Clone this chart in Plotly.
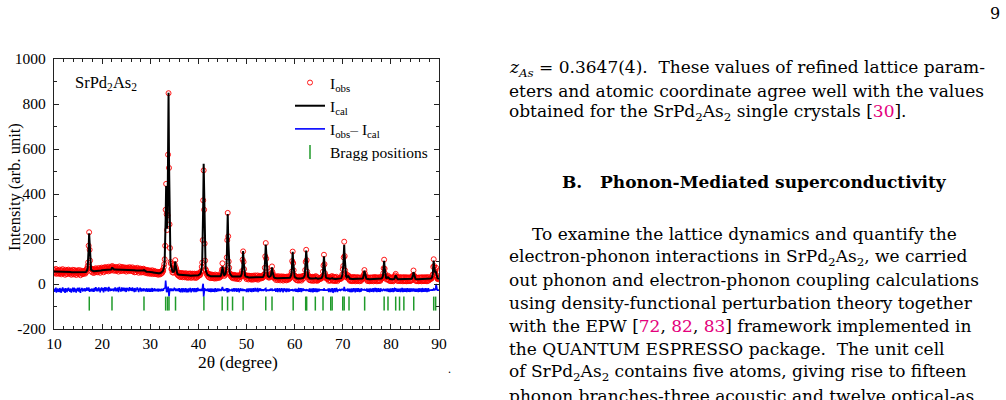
import numpy as np
import plotly.graph_objects as go

# ---------------- data ----------------
two_theta_start = 10.0
two_theta_step = 0.1          # sampling grid of the pattern (deg)

# observed intensity, one row per degree (x.0 ... x.9)
i_obs = [
    63,48,60,52,67,45,58,50,62,47,   # 10
    59,46,64,51,57,43,61,49,66,52,   # 11
    47,60,55,41,63,50,58,44,61,53,   # 12
    64,49,56,45,60,52,41,58,47,63,   # 13
    50,43,62,55,46,59,40,54,48,61,   # 14
    57,44,53,62,47,39,55,50,59,45,   # 15
    44,56,47,58,53,46,60,52,66,70,   # 16
    80,96,170,230,152,104,70,69,55,66,  # 17
    51,64,60,49,67,55,62,70,53,63,   # 18
    66,52,63,71,57,64,50,68,61,73,   # 19
    58,70,64,52,72,61,75,57,66,69,   # 20
    74,60,68,56,77,65,71,59,70,62,   # 21
    76,80,68,73,59,71,62,76,67,58,   # 22
    72,61,75,66,55,70,78,63,68,57,   # 23
    69,76,60,71,64,74,58,67,73,61,   # 24
    55,68,73,62,70,57,66,75,60,69,   # 25
    71,58,66,74,56,68,63,52,70,64,   # 26
    53,67,61,72,58,64,50,66,57,69,   # 27
    62,51,66,55,60,52,68,65,58,63,   # 28
    49,60,53,63,47,58,51,61,46,57,   # 29
    59,46,55,50,61,44,56,48,53,58,   # 30
    44,55,47,52,43,54,49,41,53,46,   # 31
    52,43,55,47,58,50,62,58,74,88,   # 32
    110,170,330,445,310,240,305,575,848,516,  # 33
    265,160,98,90,66,68,52,60,50,62,  # 34
    70,86,106,74,66,46,53,40,48,37,  # 35
    50,33,46,31,47,36,49,30,45,38,   # 36
    47,30,44,35,48,29,43,37,28,46,   # 37
    29,45,33,47,38,27,44,31,46,36,   # 38
    44,28,46,33,41,27,45,30,39,47,   # 39
    35,45,38,47,41,55,53,76,95,195,  # 40
    372,505,330,180,104,66,60,45,49,38,  # 41
    47,31,44,28,43,37,26,42,33,27,   # 42
    41,26,38,31,24,42,29,38,25,40,   # 43
    29,37,35,27,38,30,39,34,52,64,   # 44
    92,66,44,46,36,45,41,57,64,118,  # 45
    195,316,212,100,72,48,47,36,40,31,  # 46
    40,26,38,29,41,24,37,27,39,33,   # 47
    22,37,25,38,29,21,36,31,42,33,   # 48
    48,58,108,145,98,66,40,40,31,36, # 49
    22,38,26,35,20,37,24,36,27,21,   # 50
    36,19,33,25,37,20,31,24,38,27,   # 51
    21,34,26,38,19,32,23,36,25,35,   # 52
    31,25,33,27,35,30,41,44,72,123,  # 53
    182,112,71,43,40,30,34,28,36,37, # 54
    32,44,60,78,52,42,29,33,25,30,   # 55
    33,18,31,24,35,17,29,22,34,27,   # 56
    16,31,24,34,19,29,15,33,22,30,   # 57
    32,18,29,16,33,22,30,19,34,23,   # 58
    25,33,30,44,55,102,144,93,61,37, # 59
    38,24,34,19,31,17,29,15,30,33,   # 60
    16,31,20,33,15,29,34,22,36,27,   # 61
    36,38,62,98,152,106,55,43,30,33, # 62
    19,34,17,31,15,30,18,32,14,29,   # 63
    31,15,30,18,35,16,31,14,29,17,   # 64
    20,25,22,27,23,29,25,33,34,55,   # 65
    82,130,88,48,39,27,30,23,28,22,  # 66
    30,14,31,17,28,15,33,24,35,16,   # 67
    14,30,17,31,13,28,16,32,19,13,   # 68
    25,20,24,21,26,23,28,24,34,42,   # 69
    66,80,118,188,124,60,45,30,32,28,  # 70
    40,30,37,20,32,14,29,17,13,30,   # 71
    13,29,15,31,17,28,12,30,18,14,   # 72
    29,13,30,16,27,12,28,17,14,30,   # 73
    21,27,24,35,43,62,47,30,28,22,   # 74
    30,14,29,13,28,16,12,29,15,28,   # 75
    13,28,15,30,12,27,16,31,14,27,   # 76
    29,12,27,15,30,13,28,16,14,31,   # 77
    22,27,25,34,47,70,108,68,46,30,  # 78
    33,20,32,22,37,19,30,14,29,13,   # 79
    29,13,27,14,30,12,29,16,33,38,   # 80
    45,26,32,15,29,13,28,16,31,15,   # 81
    13,29,14,27,30,12,28,15,30,13,   # 82
    29,13,28,12,30,15,27,13,29,16,   # 83
    13,29,15,31,18,37,35,60,38,24,   # 84
    32,15,29,13,28,14,27,12,29,15,   # 85
    13,29,15,28,12,30,16,13,29,14,   # 86
    28,13,30,15,29,12,27,14,31,16,   # 87
    24,21,25,22,27,25,35,42,76,110,  # 88
    80,50,55,62,72,38,30,22,26,21,   # 89
    25,                              # 90
]

# calculated (Rietveld) intensity on the same grid
i_cal = [
    56,56,56,56,56,56,55,55,55,55,   # 10
    55,55,55,55,55,55,54,54,54,54,   # 11
    54,54,54,54,54,54,53,53,53,53,   # 12
    53,53,53,53,53,53,52,52,52,52,   # 13
    52,52,52,52,52,52,51,51,51,51,   # 14
    51,51,51,51,51,51,51,50,50,50,   # 15
    50,50,50,50,51,52,53,55,58,62,   # 16
    73,99,159,225,160,100,75,64,61,59,  # 17
    58,58,57,57,57,57,57,57,58,58,   # 18
    58,58,59,59,59,60,60,60,60,61,   # 19
    61,61,61,62,62,62,62,62,63,63,   # 20
    63,63,63,63,63,63,63,64,64,65,   # 21
    70,74,70,67,65,64,64,64,64,64,   # 22
    64,64,64,64,64,64,64,64,64,64,   # 23
    64,64,64,64,64,63,63,63,63,63,   # 24
    63,63,63,63,63,62,62,62,62,62,   # 25
    62,62,62,62,61,61,61,61,61,60,   # 26
    60,60,60,60,59,59,59,59,58,58,   # 27
    58,58,58,58,57,58,60,62,60,57,   # 28
    56,56,55,55,55,55,54,54,54,54,   # 29
    53,53,53,52,52,52,51,51,51,50,   # 30
    50,50,49,49,49,48,48,48,47,47,   # 31
    48,49,50,51,52,54,57,61,68,79,   # 32
    103,160,288,435,319,246,311,559,850,544,  # 33
    272,152,103,83,70,62,57,54,54,55,  # 34
    63,81,101,79,60,50,47,44,42,42,  # 35
    41,41,41,41,40,40,40,40,40,40,   # 36
    39,39,39,39,39,39,39,38,38,38,   # 37
    38,38,38,37,37,37,37,37,37,37,   # 38
    37,37,37,36,36,36,36,36,37,37,   # 39
    39,40,41,42,45,50,57,70,100,175, # 40
    344,534,344,174,99,69,56,49,44,41,  # 41
    40,38,37,36,36,35,35,35,34,34,   # 42
    34,34,33,33,33,33,33,33,33,33,   # 43
    33,33,32,32,32,32,35,38,45,60,   # 44
    78,61,47,41,40,41,44,51,67,109,  # 45
    205,311,205,109,67,51,44,40,37,35,  # 46
    34,33,33,32,32,31,31,31,31,31,   # 47
    30,30,30,30,30,31,31,33,34,37,   # 48
    44,62,102,147,102,62,44,37,34,33,  # 49
    31,31,30,30,29,29,29,29,29,29,   # 50
    28,28,28,28,28,28,28,28,28,28,   # 51
    28,28,28,28,28,28,28,28,28,28,   # 52
    28,29,29,30,31,34,37,46,68,119,  # 53
    175,119,68,46,37,34,31,31,33,33, # 54
    35,40,57,74,56,39,32,30,28,27,   # 55
    26,26,26,26,26,26,26,26,26,26,   # 56
    25,25,25,25,25,25,25,25,25,25,   # 57
    25,25,25,25,25,25,25,26,27,27,   # 58
    28,30,33,40,58,98,143,98,58,40,  # 59
    33,30,28,27,26,25,25,24,24,24,   # 60
    24,24,24,24,24,24,26,27,28,30,   # 61
    33,40,59,102,149,102,59,40,33,30,  # 62
    27,26,25,25,24,24,24,24,24,24,   # 63
    23,23,24,25,27,25,24,23,23,23,   # 64
    23,23,23,24,25,26,27,30,36,51,   # 65
    85,123,85,51,36,30,27,26,25,24,  # 66
    23,23,23,23,23,24,26,28,26,24,   # 67
    23,23,22,22,22,22,22,22,22,22,   # 68
    22,22,22,23,24,24,25,26,31,39,   # 69
    62,77,122,174,118,65,42,33,29,30,  # 70
    33,37,31,27,25,23,23,22,22,22,   # 71
    22,22,22,22,22,22,22,22,22,21,   # 72
    21,21,21,21,21,21,21,21,21,22,   # 73
    23,24,26,32,45,59,45,32,26,24,   # 74
    23,22,22,21,21,21,21,21,21,21,   # 75
    21,21,21,21,21,21,21,21,21,21,   # 76
    21,21,21,21,21,21,21,21,22,23,   # 77
    24,25,27,32,44,72,103,72,44,32,  # 78
    27,26,26,28,30,27,24,23,22,22,   # 79
    21,21,21,21,21,21,22,23,26,32,   # 80
    39,32,26,23,22,21,21,23,24,23,   # 81
    22,21,21,21,21,21,22,23,22,21,   # 82
    21,21,21,21,21,21,21,21,21,21,   # 83
    21,21,22,23,25,30,41,53,41,30,   # 84
    25,23,22,21,21,21,21,21,21,21,   # 85
    21,21,21,21,21,21,21,21,21,21,   # 86
    21,21,21,21,21,21,21,21,22,22,   # 87
    22,23,23,24,25,27,32,44,73,104,  # 88
    76,52,51,58,45,32,28,25,24,23,   # 89
    23,                              # 90
]

diff_offset = -27            # the difference curve is shifted down
bragg_pos = [17.33, 22.05, 28.7, 33.2, 33.6, 33.9, 35.25, 41.15, 44.95, 46.07,
             47.1, 49.3, 54.0, 55.3, 59.7, 62.3, 62.5, 64.3, 65.9, 67.5, 67.8,
             70.0, 70.3, 71.3, 74.55, 78.6, 79.4, 81.0, 81.8, 82.7, 84.75,
             88.9, 89.3]
bragg_level = -87

x_tick_vals = [10, 20, 30, 40, 50, 60, 70, 80, 90]
y_tick_vals = [-200, 0, 200, 400, 600, 800, 1000]
y_tick_text = ["-200", "0", "200", "400", "600", "800", "1000"]

# ---------------- figure ----------------
W, H = 1006, 400
L, R, T, B = 54, 567, 59, 71
PW, PH = W - L - R, H - T - B


def px(xp):
    return (xp - L) / PW


def py(yp):
    return (H - B - yp) / PH


two_theta = np.round(two_theta_start + two_theta_step * np.arange(len(i_obs)), 2)
obs = np.array(i_obs, dtype=float)
cal = np.array(i_cal, dtype=float)
diff = obs - cal + diff_offset

SERIF = "Liberation Serif"
TEXTF = "DejaVu Serif"

fig = go.Figure()
fig.add_trace(go.Scatter(
    x=two_theta, y=obs, mode="markers", name="I<sub>obs</sub>",
    marker=dict(symbol="circle-open", size=5, color="#ff0000",
                line=dict(width=0.9, color="#ff0000"))))
fig.add_trace(go.Scatter(
    x=two_theta, y=cal, mode="lines", name="I<sub>cal</sub>",
    line=dict(color="black", width=2)))
fig.add_trace(go.Scatter(
    x=two_theta, y=diff, mode="lines", name="I<sub>obs</sub>– I<sub>cal</sub>",
    line=dict(color="#0000ff", width=1.6)))
fig.add_trace(go.Scatter(
    x=bragg_pos, y=[bragg_level] * len(bragg_pos), mode="markers",
    name="Bragg positions",
    marker=dict(symbol="line-ns-open", size=10, color="#1f9a2a",
                line=dict(width=1.5, color="#1f9a2a"))))

axis_common = dict(
    showgrid=False, zeroline=False, showline=True, linecolor="#222",
    linewidth=1.3, mirror="allticks", ticks="inside", ticklen=5,
    tickwidth=1, tickcolor="#222",
    tickfont=dict(family=SERIF, size=15.5, color="black"),
)
fig.update_xaxes(range=[10, 90], tickvals=x_tick_vals,
                 minor=dict(dtick=2, tick0=10, ticks="inside", ticklen=3,
                            tickwidth=1, tickcolor="#222"),
                 **axis_common)
fig.update_yaxes(range=[-200, 1000], tickvals=y_tick_vals, ticktext=y_tick_text,
                 minor=dict(dtick=100, tick0=0, ticks="inside", ticklen=3,
                            tickwidth=1, tickcolor="#222"),
                 ticklabelstandoff=4,
                 **axis_common)

annots = []


def add_text(xp, yp, text, size=15, family=SERIF, anchor="left", angle=0,
             color="black"):
    annots.append(dict(x=px(xp), y=py(yp), xref="paper", yref="paper",
                       text=text, showarrow=False, xanchor=anchor,
                       yanchor="middle", textangle=angle,
                       font=dict(family=family, size=size, color=color)))


# chart texts
add_text(73, 83, "SrPd<sub>2</sub>As<sub>2</sub>", size=16.5)
add_text(238, 362, "2θ (degree)", size=17.5, anchor="center")
add_text(14, 187, "Intensity (arb. unit)", size=16.5, anchor="center", angle=-90)
add_text(449, 369, ".", size=12, anchor="center")

# page text
PINK = "#e4007c"
add_text(995, 14, "9", size=16, family=TEXTF, anchor="center")
lines = [
    (507, 68, "<i>z</i><sub><i>As</i></sub> = 0.3647(4).  These values of refined lattice param-"),
    (507, 91, "eters and atomic coordinate agree well with the values"),
    (507, 113, "obtained for the SrPd<sub>2</sub>As<sub>2</sub> single crystals [<span style='color:%s'>30</span>]." % PINK),
    (530, 234, "To examine the lattice dynamics and quantify the"),
    (507, 257, "electron-phonon interactions in SrPd<sub>2</sub>As<sub>2</sub>, we carried"),
    (507, 280, "out phonon and electron-phonon coupling calculations"),
    (507, 303, "using density-functional perturbation theory together"),
    (507, 326, "with the EPW [<span style='color:%s'>72</span>, <span style='color:%s'>82</span>, <span style='color:%s'>83</span>] framework implemented in" % (PINK, PINK, PINK)),
    (507, 349, "the QUANTUM ESPRESSO package.  The unit cell"),
    (507, 372, "of SrPd<sub>2</sub>As<sub>2</sub> contains five atoms, giving rise to fifteen"),
    (507, 396, "phonon branches-three acoustic and twelve optical-as"),
]
for xp, yp, t in lines:
    add_text(xp, yp, t, size=17, family=TEXTF)
add_text(754, 182, "<b>B.\u00a0\u00a0\u00a0Phonon-Mediated superconductivity</b>",
         size=17, family=TEXTF, anchor="center")

fig.update_layout(
    width=W, height=H,
    margin=dict(l=L, r=R, t=T, b=B, pad=0),
    paper_bgcolor="white", plot_bgcolor="white",
    showlegend=True,
    legend=dict(x=px(290), y=py(66), xanchor="left", yanchor="top",
                bgcolor="rgba(0,0,0,0)", borderwidth=0,
                font=dict(family=SERIF, size=15.5, color="black"),
                itemwidth=30, tracegroupgap=0),
    annotations=annots,
    hovermode=False,
)

fig.write_html("out.html", config={"displayModeBar": False})
